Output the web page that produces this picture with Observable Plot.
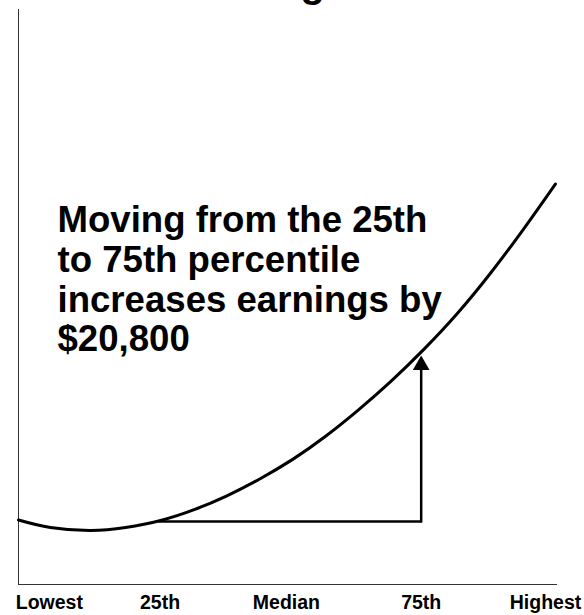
<!DOCTYPE html>
<html><head><meta charset="utf-8">
<script src="https://cdn.jsdelivr.net/npm/d3@7"></script>
<script src="https://cdn.jsdelivr.net/npm/@observablehq/plot@0.6"></script>
<style>
body{margin:0;background:#fff;}
#wrap{position:relative;width:584px;height:615px;overflow:hidden;font-family:"Liberation Sans",Arial,sans-serif;}
#title{position:absolute;left:176px;top:-37px;font-size:40px;font-weight:bold;line-height:1;white-space:nowrap;color:#000;}
#chart{position:absolute;left:0;top:0;}
</style></head><body>
<div id="wrap"><div id="chart"></div><div id="title">Earnings</div></div>
<script>
// Earnings curve (x: percentile of the distribution, y: earnings in $ thousands)
const curvePercentile = [-2.1, 4.0, 11.7, 18.4, 25.1, 31.4, 37.7, 44.0, 50.4, 56.7, 63.0, 69.3, 75.6, 82.0, 88.3, 94.6, 100.7];
const curveEarnings   = [7.94, 7.02, 6.65, 7.02, 7.88, 9.18, 10.89, 12.96, 15.40, 18.24, 21.49, 25.06, 29.00, 33.42, 38.34, 43.75, 49.29];

// Percentile comparison
const lowPercentile = 25;
const highPercentile = 75;
const lowEarnings = 7.75;
const highEarnings = 28.55; // +20.8 ($20,800)

// X tick labels
const tickLabels = ["Lowest", "25th", "Median", "75th", "Highest"];
const tickPositions = [3.8, 25, 49.2, 75, 98.8];

// Annotation
const annotationText = "Moving from the 25th\nto 75th percentile\nincreases earnings by\n$20,800";
const annotationPercentile = 5.37;
const annotationEarnings = 46.9;

const curveData = curvePercentile.map((p, i) => ({p, e: curveEarnings[i]}));

const chart = Plot.plot({
  width: 584,
  height: 615,
  marginLeft: 18,
  marginRight: 27,
  marginTop: 9,
  marginBottom: 31,
  style: {fontFamily: '"Liberation Sans", Arial, sans-serif', background: "white", color: "black"},
  x: {domain: [-2.1, 101.1]},
  y: {domain: [0, 70.77], axis: null},
  marks: [
    Plot.ruleY([0], {stroke: "#333", strokeWidth: 1}),
    Plot.ruleX([-2.1], {stroke: "#333", strokeWidth: 1}),
    Plot.axisX({
      ticks: tickPositions,
      tickFormat: d => tickLabels[tickPositions.indexOf(d)],
      tickSize: 0,
      tickPadding: 11,
      fontSize: 19.5,
      fontWeight: "bold",
      label: null
    }),
    Plot.line(curveData, {x: "p", y: "e", curve: "natural", stroke: "black", strokeWidth: 3}),
    Plot.ruleY([lowEarnings], {x1: lowPercentile, x2: highPercentile, stroke: "black", strokeWidth: 2.5, strokeLinecap: "square"}),
    Plot.ruleX([highPercentile], {y1: highEarnings, y2: lowEarnings, stroke: "black", strokeWidth: 2.5, insetTop: 12, strokeLinecap: "square"}),
    Plot.dot([{p: highPercentile, e: highEarnings}], {x: "p", y: "e", symbol: "triangle", r: 6.2, fill: "black", stroke: "none", dy: 12.6}),
    Plot.text([{p: annotationPercentile, e: annotationEarnings, t: annotationText}], {
      x: "p", y: "e", text: "t", textAnchor: "start", lineAnchor: "top",
      fontSize: 36.6, fontWeight: "bold", lineHeight: 1.09, fill: "black"
    })
  ]
});
document.getElementById("chart").appendChild(chart);
</script>
</body></html>
